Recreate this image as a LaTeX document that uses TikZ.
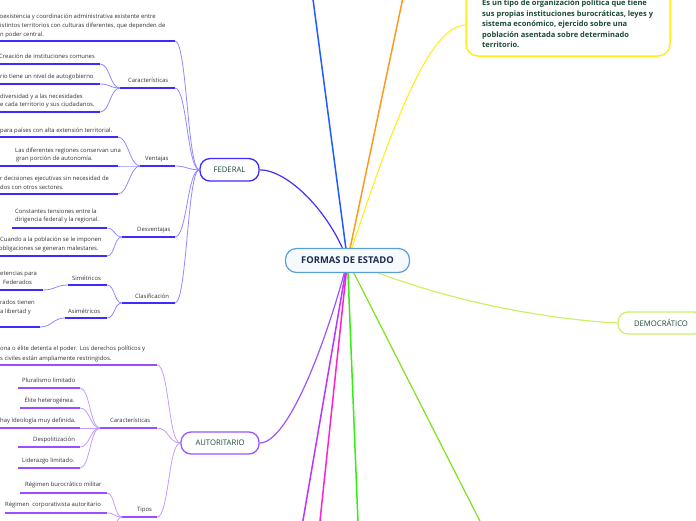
\documentclass[tikz,border=0pt]{standalone}
\usepackage{fontspec}
\setmainfont{Open Sans}
\usetikzlibrary{calc}
\pgfdeclarelayer{background}
\pgfsetlayers{background,main}
\definecolor{fed}{HTML}{3F2BFF}
\definecolor{fedl}{HTML}{9288FF}
\definecolor{aut}{HTML}{9B4DFF}
\definecolor{autl}{HTML}{C29CFF}
\definecolor{lbl}{HTML}{1B4A36}
\definecolor{leaf}{HTML}{333333}
\definecolor{cblue}{HTML}{1F5CFF}
\definecolor{corange}{HTML}{FF9A1F}
\definecolor{cyellow}{HTML}{FFEE1A}
\definecolor{cviolet}{HTML}{BB33FF}
\definecolor{cmagenta}{HTML}{FF22CC}
\definecolor{cgreen}{HTML}{33EE11}
\definecolor{clime}{HTML}{7EE01E}
\definecolor{cdemo}{HTML}{CCF066}
\definecolor{cfedmain}{HTML}{4433EE}
\definecolor{cautmain}{HTML}{9955FF}
\definecolor{cborder}{HTML}{5A9FD8}
\definecolor{cfill}{HTML}{F6FAFF}
\definecolor{cnavy}{HTML}{1E2D4F}
\newcommand\myul[5]{\coordinate (#1L) at (#2,#4); \coordinate (#1R) at (#3,#4); \draw[ulstyle,#5] (#1L) -- (#1R);}
\newcommand\lnk[4]{\draw[lnkstyle,#4] (#1) .. controls ($(#1)+(#3,0)$) and ($(#2)+(-#3,0)$) .. (#2);}
\newcommand\tx[4]{\node[leaftxt,anchor=base west] (#1) at (#2,#3) {#4};}
\tikzset{
  leaftxt/.style={font=\fontsize{5.9}{6.5}\selectfont, text=leaf, inner sep=0pt},
  ulstyle/.style={line width=2pt},
  lnkstyle/.style={line width=0.8pt},
  mainnode/.style={draw, line width=1.3pt, rounded corners=10pt, fill=white, inner sep=0pt, text=lbl, font=\fontsize{7.7}{8}\selectfont},
}
\begin{document}
\begin{tikzpicture}[x=1pt,y=-1pt]
\useasboundingbox (0,0) rectangle (696,520);
\clip (0,0) rectangle (696,520);

% ---------- main nodes ----------
\node[draw=cborder, line width=1.2pt, rounded corners=11pt, fill=cfill, minimum width=124pt, minimum height=24pt, inner sep=0pt, text=cnavy, font=\bfseries\fontsize{9.4}{10}\selectfont] (center) at (347.5,260.5) {FORMAS DE ESTADO};
\node[mainnode, draw=fed, minimum width=59pt, minimum height=22.5pt] (fednode) at (229.5,169.8) {FEDERAL};
\node[mainnode, draw=cautmain, minimum width=78pt, minimum height=22pt] (autnode) at (220,443) {AUTORITARIO};
\node[mainnode, draw=cdemo, minimum width=86pt, minimum height=22pt] (demnode) at (661,323) {DEMOCRÁTICO};
\node[draw=cyellow, line width=1.5pt, rounded corners=12pt, fill=white, minimum width=204pt, minimum height=70pt, inner sep=0pt] (ybox) at (568,21) {};
\coordinate (yin) at (466,25);
\begin{scope}[font=\bfseries\fontsize{7.5}{8}\selectfont, text=lbl, inner sep=0pt]
\node[anchor=base west] (y1) at (482,5.2) {Es un tipo de organización política que tiene};
\node[anchor=base west] (y2) at (482,16.6) {sus propias instituciones burocráticas, leyes y};
\node[anchor=base west] (y3) at (482,26.8) {sistema económico, ejercido sobre una};
\node[anchor=base west] (y4) at (482,37) {población asentada sobre determinado};
\node[anchor=base west] (y5) at (482,47.5) {territorio.};
\end{scope}

% ---------- main connectors ----------
\coordinate (eblue) at (311.5,-12);
\coordinate (eorange) at (405,-12);
\coordinate (eviolet) at (300.5,535);
\coordinate (emagenta) at (318.5,535);
\coordinate (egreen) at (358.5,535);
\coordinate (elime) at (487,535);
\begin{pgfonlayer}{background}
\draw[cblue, line width=1.5pt] (center.center) -- (eblue);
\draw[corange, line width=1.5pt] (center.center) -- (eorange);
\draw[cyellow, line width=1.1pt] (center.center) .. controls (385,150) and (425,25) .. (yin);
\draw[cfedmain, line width=1.2pt] (center.center) .. controls (330,212) and (288,170) .. (fednode.east);
\draw[cautmain, line width=1.2pt] (center.center) .. controls (330,330) and (290,443) .. (autnode.east);
\draw[cdemo, line width=1.2pt] (center.center) .. controls (450,305) and (560,320) .. (demnode.west);
\draw[cviolet, line width=1.5pt] (center.center) -- (eviolet);
\draw[cmagenta, line width=1.5pt] (center.center) -- (emagenta);
\draw[cgreen, line width=1.5pt] (center.center) -- (egreen);
\draw[clime, line width=1.2pt] (center.center) -- (elime);
\end{pgfonlayer}

% ---------- FEDERAL branch ----------
\myul{fdesc}{0}{175}{41}{fed}
\tx{fd1}{-0.5}{18}{oexistencia y coordinación administrativa existente entre}
\tx{fd2}{0}{27.3}{istintos territorios con culturas diferentes, que dependen de}
\tx{fd3}{0}{36.2}{n poder central.}
\lnk{fdescR}{fednode.west}{12}{fedl}

\myul{fcar}{120}{175}{88}{fed}
\tx{fcart}{128}{82}{Características}
\lnk{fcarR}{fednode.west}{12}{fedl}
\myul{fc1}{0}{100}{64}{fed}
\tx{fc1t}{-1}{58}{Creación de instituciones comunes}
\myul{fc2}{0}{100}{84}{fed}
\tx{fc2t}{0}{78}{rio tiene un nivel de autogobierno}
\myul{fc3}{0}{100}{112}{fed}
\tx{fc3a}{0}{98}{diversidad y a las necesidades}
\tx{fc3b}{0}{106.5}{e cada territorio y sus ciudadanos.}
\lnk{fc1R}{fcarL}{10}{fedl}
\lnk{fc2R}{fcarL}{10}{fedl}
\lnk{fc3R}{fcarL}{10}{fedl}

\myul{fven}{140}{175}{166}{fed}
\tx{fvent}{145}{160}{Ventajas}
\lnk{fvenR}{fednode.west}{12}{fedl}
\myul{fv1}{0}{118}{137}{fed}
\tx{fv1t}{0}{132}{para países con alta extensión territorial.}
\myul{fv2}{0}{118}{166}{fed}
\tx{fv2a}{15}{152}{Las diferentes regiones conservan una}
\tx{fv2b}{16}{160.5}{gran porción de autonomía.}
\myul{fv3}{0}{118}{194}{fed}
\tx{fv3a}{0}{180}{r decisiones ejecutivas sin necesidad de}
\tx{fv3b}{0}{189}{dos con otros sectores.}
\lnk{fv1R}{fvenL}{10}{fedl}
\lnk{fv2R}{fvenL}{10}{fedl}
\lnk{fv3R}{fvenL}{10}{fedl}

\myul{fdes}{122}{175}{237}{fed}
\tx{fdest}{137}{231}{Desventajas}
\lnk{fdesR}{fednode.west}{12}{fedl}
\myul{fs1}{12}{107}{228}{fed}
\tx{fs1a}{15}{213}{Constantes tensiones entre la}
\tx{fs1b}{15}{221.5}{dirigencia federal y la regional.}
\myul{fs2}{0}{107}{256}{fed}
\tx{fs2a}{0}{241}{Cuando a la población se le imponen}
\tx{fs2b}{-1}{250}{obligaciones se generan malestares.}
\lnk{fs1R}{fdesL}{8}{fedl}
\lnk{fs2R}{fdesL}{8}{fedl}

\myul{fcla}{122}{175}{303}{fed}
\tx{fclat}{135}{298}{Clasificación}
\lnk{fclaR}{fednode.west}{12}{fedl}
\myul{fsim}{68}{107}{285}{fed}
\tx{fsimt}{72}{280}{Simétricos}
\myul{fasi}{65}{107}{318}{fed}
\tx{fasit}{68}{313}{Asimétricos}
\lnk{fsimR}{fclaL}{8}{fedl}
\lnk{fasiR}{fclaL}{8}{fedl}
\myul{fsc}{0}{43}{290}{fed}
\tx{fsca}{0}{275}{etencias para}
\tx{fscb}{3}{284}{Federados}
\lnk{fscR}{fsimL}{12}{fedl}
\myul{fac}{0}{40}{327}{fed}
\tx{faca}{0}{304}{rados tienen}
\tx{facb}{0}{313}{a libertad y}
\lnk{facR}{fasiL}{12}{fedl}

% ---------- AUTORITARIO branch ----------
\myul{adesc}{0}{157}{365}{aut}
\tx{ad1}{0}{350}{ona o élite detenta el poder. Los derechos políticos y}
\tx{ad2}{0}{360}{s civiles están ampliamente restringidos.}
\lnk{adescR}{autnode.west}{12}{autl}

\myul{acar}{100}{157}{428}{aut}
\tx{acart}{110}{422}{Características}
\lnk{acarR}{autnode.west}{12}{autl}
\myul{ac1}{18}{80}{388}{aut}
\tx{ac1t}{22}{382}{Pluralismo limitado}
\myul{ac2}{20}{80}{408}{aut}
\tx{ac2t}{24.5}{402}{Élite heterogénea.}
\myul{ac3}{0}{80}{428}{aut}
\tx{ac3t}{0}{422}{hay ideología muy definida.}
\myul{ac4}{18}{80}{447}{aut}
\tx{ac4t}{33}{441}{Despolitización}
\myul{ac5}{18}{80}{468}{aut}
\tx{ac5t}{22}{462}{Liderazgo limitado.}
\lnk{ac1R}{acarL}{10}{autl}
\lnk{ac2R}{acarL}{10}{autl}
\lnk{ac3R}{acarL}{10}{autl}
\lnk{ac4R}{acarL}{10}{autl}
\lnk{ac5R}{acarL}{10}{autl}

\myul{atip}{122}{157}{517}{aut}
\tx{atipt}{137}{511}{Tipos}
\lnk{atipR}{autnode.west}{12}{autl}
\myul{at1}{20}{107}{493}{aut}
\tx{at1t}{25}{486}{Régimen burocrático militar}
\myul{at2}{5}{107}{513}{aut}
\tx{at2t}{5}{506}{Régimen\ \ corporativista autoritario}
\coordinate (at3R) at (107,540);
\lnk{at1R}{atipL}{8}{autl}
\lnk{at2R}{atipL}{8}{autl}
\lnk{at3R}{atipL}{8}{autl}
\end{tikzpicture}
\end{document}
